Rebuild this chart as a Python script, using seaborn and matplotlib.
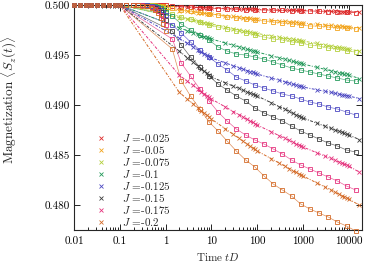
import matplotlib
matplotlib.use("Agg")
import matplotlib.pyplot as plt
import seaborn as sns
import pandas as pd
from matplotlib.ticker import FixedLocator, FixedFormatter, LogLocator, NullFormatter
from matplotlib.lines import Line2D

# ---------------- data ----------------
J_labels = ["-0.025", "-0.05", "-0.075", "-0.1", "-0.125", "-0.15", "-0.175", "-0.2"]
colors = ["#dd2a2a", "#f2a31b", "#b3cf3a", "#23995a", "#4b47c2", "#3c3c3c", "#e5317c", "#d46a26"]

onset_t = 0.1
onset_v = 0.5
early_t = [0.01, 0.0135, 0.018, 0.024, 0.032, 0.043, 0.058, 0.078, 0.1]
early_level = 0.5

cross_t = [2, 3, 4, 5, 6, 7, 8, 9, 10,
           20, 30, 40, 50, 60, 70, 80, 90, 100,
           200, 300, 400, 500, 600, 700, 800, 900, 1000,
           2000, 3000, 4000, 5000, 6000, 7000, 8000, 9000, 10000, 17000]

cross_v = {
    "-0.025": [0.49981, 0.49978, 0.49976, 0.49975, 0.49973, 0.49972, 0.49972, 0.49971, 0.49970,
               0.49966, 0.49963, 0.49961, 0.49960, 0.49958, 0.49957, 0.49957, 0.49956, 0.49955,
               0.49952, 0.49950, 0.49949, 0.49948, 0.49947, 0.49947, 0.49946, 0.49946, 0.49945,
               0.49941, 0.49939, 0.49937, 0.49936, 0.49935, 0.49934, 0.49933, 0.49933, 0.49932, 0.49928],
    "-0.05": [0.49945, 0.49936, 0.49930, 0.49925, 0.49921, 0.49918, 0.49915, 0.49913, 0.49910,
              0.49895, 0.49886, 0.49880, 0.49875, 0.49871, 0.49868, 0.49865, 0.49863, 0.49860,
              0.49848, 0.49841, 0.49836, 0.49832, 0.49829, 0.49826, 0.49824, 0.49822, 0.49820,
              0.49808, 0.49801, 0.49796, 0.49792, 0.49789, 0.49786, 0.49784, 0.49782, 0.49780, 0.49772],
    "-0.075": [0.49873, 0.49857, 0.49846, 0.49837, 0.49830, 0.49824, 0.49819, 0.49815, 0.49810,
               0.49782, 0.49764, 0.49753, 0.49744, 0.49736, 0.49729, 0.49725, 0.49720, 0.49715,
               0.49693, 0.49679, 0.49670, 0.49663, 0.49657, 0.49651, 0.49648, 0.49644, 0.49640,
               0.49616, 0.49602, 0.49592, 0.49584, 0.49578, 0.49572, 0.49568, 0.49564, 0.49560, 0.49540],
    "-0.1": [0.49772, 0.49743, 0.49724, 0.49708, 0.49695, 0.49684, 0.49676, 0.49668, 0.49660,
             0.49621, 0.49598, 0.49582, 0.49569, 0.49559, 0.49550, 0.49543, 0.49537, 0.49530,
             0.49494, 0.49472, 0.49458, 0.49446, 0.49436, 0.49428, 0.49422, 0.49416, 0.49410,
             0.49377, 0.49357, 0.49344, 0.49333, 0.49324, 0.49317, 0.49311, 0.49306, 0.49300, 0.49265],
    "-0.125": [0.49666, 0.49616, 0.49582, 0.49554, 0.49532, 0.49512, 0.49498, 0.49484, 0.49470,
               0.49422, 0.49393, 0.49374, 0.49358, 0.49345, 0.49334, 0.49326, 0.49318, 0.49310,
               0.49271, 0.49248, 0.49232, 0.49219, 0.49209, 0.49200, 0.49193, 0.49187, 0.49180,
               0.49153, 0.49137, 0.49126, 0.49117, 0.49110, 0.49104, 0.49099, 0.49095, 0.49090, 0.49065],
    "-0.15": [0.49539, 0.49472, 0.49428, 0.49391, 0.49361, 0.49336, 0.49317, 0.49299, 0.49280,
              0.49223, 0.49189, 0.49166, 0.49147, 0.49132, 0.49119, 0.49109, 0.49100, 0.49090,
              0.49024, 0.48984, 0.48958, 0.48936, 0.48918, 0.48903, 0.48892, 0.48881, 0.48870,
              0.48819, 0.48788, 0.48768, 0.48751, 0.48737, 0.48726, 0.48717, 0.48709, 0.48700, 0.48655],
    "-0.175": [0.49298, 0.49237, 0.49196, 0.49162, 0.49135, 0.49111, 0.49094, 0.49077, 0.49060,
               0.48982, 0.48935, 0.48904, 0.48878, 0.48857, 0.48839, 0.48826, 0.48813, 0.48800,
               0.48734, 0.48694, 0.48668, 0.48646, 0.48628, 0.48613, 0.48602, 0.48591, 0.48580,
               0.48523, 0.48489, 0.48466, 0.48447, 0.48432, 0.48419, 0.48409, 0.48400, 0.48390, 0.48328],
    "-0.2": [0.49126, 0.49058, 0.49012, 0.48974, 0.48944, 0.48917, 0.48898, 0.48879, 0.48860,
             0.48764, 0.48706, 0.48668, 0.48636, 0.48610, 0.48588, 0.48572, 0.48556, 0.48540,
             0.48465, 0.48420, 0.48390, 0.48365, 0.48345, 0.48328, 0.48315, 0.48303, 0.48290,
             0.48221, 0.48180, 0.48152, 0.48129, 0.48111, 0.48095, 0.48083, 0.48072, 0.48060, 0.47998],
}

square_t = [1.4, 2.2, 3.5, 5.6, 8.9, 14, 22, 35, 56, 89, 141, 224, 355, 562, 891,
            1413, 2239, 3548, 5623, 8913, 14125]

square_v = {
    "-0.025": [0.4999, 0.49985, 0.4998, 0.49975, 0.4997, 0.49965, 0.4996, 0.49957, 0.49955, 0.49952,
               0.4995, 0.49948, 0.49946, 0.49944, 0.49942, 0.4994, 0.49937, 0.49934, 0.49931, 0.49928, 0.49925],
    "-0.05": [0.4997, 0.4995, 0.4994, 0.4993, 0.4991, 0.4990, 0.4988, 0.4987, 0.4986, 0.4985,
              0.4984, 0.4983, 0.4982, 0.4981, 0.4980, 0.4979, 0.4979, 0.4978, 0.4977, 0.4977, 0.4976],
    "-0.075": [0.4991, 0.4988, 0.4986, 0.4983, 0.4980, 0.4978, 0.4976, 0.4974, 0.4972, 0.4970,
               0.4968, 0.4966, 0.4965, 0.4963, 0.4962, 0.4960, 0.4959, 0.4957, 0.4956, 0.4954, 0.4953],
    "-0.1": [0.4989, 0.4981, 0.4975, 0.4970, 0.4965, 0.4958, 0.4954, 0.4951, 0.4950, 0.4948,
             0.4946, 0.4943, 0.4940, 0.4937, 0.4935, 0.4933, 0.4931, 0.4929, 0.4927, 0.4925, 0.4924],
    "-0.125": [0.4980, 0.4972, 0.4963, 0.4955, 0.4948, 0.4941, 0.4935, 0.4928, 0.4924, 0.4920,
               0.4917, 0.4914, 0.4911, 0.4909, 0.4906, 0.4903, 0.4901, 0.4898, 0.4896, 0.4893, 0.4890],
    "-0.15": [0.4974, 0.4960, 0.4948, 0.4938, 0.4929, 0.4921, 0.4915, 0.4909, 0.4904, 0.4897,
              0.4892, 0.4888, 0.4884, 0.4879, 0.4874, 0.4870, 0.4866, 0.4862, 0.4859, 0.4855, 0.4853],
    "-0.175": [0.4966, 0.4942, 0.4929, 0.4916, 0.4904, 0.4893, 0.4884, 0.4876, 0.4870, 0.4865,
               0.4861, 0.4856, 0.4851, 0.4845, 0.4840, 0.4836, 0.4832, 0.4828, 0.4824, 0.4819, 0.4815],
    "-0.2": [0.4956, 0.4924, 0.4909, 0.4896, 0.4883, 0.4874, 0.4864, 0.4854, 0.4845, 0.4838,
             0.4829, 0.4821, 0.4815, 0.4809, 0.4801, 0.4796, 0.4792, 0.4788, 0.4783, 0.4779, 0.4774],
}

# dense squares just before t = 1
cluster_t = [0.14, 0.19, 0.25, 0.3, 0.4, 0.5, 0.6, 0.7, 0.8, 0.9, 1.0]
cluster_v = {
    "-0.025": [0.5, 0.5, 0.5, 0.5, 0.5, 0.5, 0.49999, 0.49999, 0.49998, 0.49997, 0.49996],
    "-0.05": [0.5, 0.5, 0.5, 0.5, 0.49999, 0.49998, 0.49997, 0.49995, 0.49992, 0.49988, 0.49984],
    "-0.075": [0.5, 0.5, 0.5, 0.49999, 0.49999, 0.49996, 0.49993, 0.49989, 0.49982, 0.49973, 0.49963],
    "-0.1": [0.5, 0.5, 0.5, 0.49999, 0.49998, 0.49993, 0.49988, 0.4998, 0.49968, 0.49953, 0.49935],
    "-0.125": [0.5, 0.5, 0.5, 0.49998, 0.49996, 0.49988, 0.4998, 0.49969, 0.49949, 0.49926, 0.49898],
    "-0.15": [0.5, 0.5, 0.5, 0.49997, 0.49994, 0.49983, 0.49972, 0.49955, 0.49927, 0.49893, 0.49854],
    "-0.175": [0.5, 0.5, 0.5, 0.49996, 0.49992, 0.49977, 0.49962, 0.49939, 0.499, 0.49855, 0.49801],
    "-0.2": [0.5, 0.5, 0.5, 0.49995, 0.4999, 0.4997, 0.4995, 0.4992, 0.4987, 0.4981, 0.4974],
}

x_ticks = [0.01, 0.1, 1, 10, 100, 1000, 10000]
x_ticklabels = ["0.01", "0.1", "1", "10", "100", "1000", "10000"]
y_ticks = [0.480, 0.485, 0.490, 0.495, 0.500]
y_ticklabels = ["0.480", "0.485", "0.490", "0.495", "0.500"]

# ---------------- style ----------------
sns.set_style("ticks")
plt.rcParams.update({
    "font.family": ["cmr10", "DejaVu Serif"],
    "mathtext.fontset": "cm",
    "axes.formatter.use_mathtext": True,
    "font.size": 8,
    "axes.linewidth": 0.8,
    "axes.unicode_minus": False,
})

fig = plt.figure(figsize=(3.68, 2.65), dpi=100)
ax = fig.add_axes([0.201, 0.132, 0.783, 0.849])

for lab, c in zip(J_labels, colors):
    cv = cross_v[lab]
    sv = square_v[lab]
    # fitted lines
    sns.lineplot(x=[onset_t] + square_t, y=[onset_v] + sv, ax=ax, color=c, lw=0.5,
                 alpha=0.75, estimator=None, sort=False, legend=False, zorder=1)
    sns.lineplot(x=[onset_t] + cross_t, y=[onset_v] + cv, ax=ax, color=c, lw=0.7,
                 linestyle=(0, (3, 1.5, 1, 1.5)), estimator=None, sort=False,
                 legend=False, zorder=2)
    # squares
    sq_df = pd.DataFrame({"t": early_t + cluster_t + square_t,
                          "m": [early_level] * len(early_t) + cluster_v[lab] + sv})
    sns.lineplot(data=sq_df, x="t", y="m", ax=ax, marker="s", linestyle="none",
                 color=c, markerfacecolor="none", markeredgecolor=c, markersize=3.3,
                 markeredgewidth=0.6, estimator=None, sort=False, legend=False,
                 clip_on=False, zorder=3)
    # crosses
    cr_df = pd.DataFrame({"t": early_t + cross_t,
                          "m": [early_level] * len(early_t) + cv})
    sns.lineplot(data=cr_df, x="t", y="m", ax=ax, marker="x", linestyle="none",
                 color=c, markeredgecolor=c, markersize=3.0, markeredgewidth=0.6,
                 estimator=None, sort=False, legend=False, clip_on=False, zorder=4)

ax.set_xscale("log")
ax.set_xlim(0.01, 19500)
ax.set_ylim(0.4775, 0.5)

ax.xaxis.set_major_locator(FixedLocator(x_ticks))
ax.xaxis.set_major_formatter(FixedFormatter(x_ticklabels))
ax.xaxis.set_minor_locator(LogLocator(base=10, subs=range(2, 10), numticks=20))
ax.xaxis.set_minor_formatter(NullFormatter())
ax.yaxis.set_major_locator(FixedLocator(y_ticks))
ax.yaxis.set_major_formatter(FixedFormatter(y_ticklabels))

ax.tick_params(which="both", direction="in", top=True, right=True, width=0.6, colors="black")
ax.tick_params(which="major", length=4)
ax.tick_params(which="minor", length=2)
ax.tick_params(axis="x", which="major", pad=5, labelsize=8)
ax.tick_params(axis="y", which="major", pad=3, labelsize=8)

ax.set_xlabel(r"Time $tD$", fontsize=8, labelpad=3)
ax.set_ylabel(r"Magnetization $\langle S_z(t)\rangle$", fontsize=9.5)
ax.yaxis.set_label_coords(-0.19, 0.58)

handles = [Line2D([], [], marker="x", linestyle="none", color=c, markersize=3.0,
                  markeredgewidth=0.6) for c in colors]
labels = [r"$J$ =" + l for l in J_labels]
ax.legend(handles, labels, loc="lower left", bbox_to_anchor=(0.075, 0.01),
          frameon=False, fontsize=8, handlelength=1.0, handletextpad=1.4,
          labelspacing=0.0, borderpad=0, borderaxespad=0)

fig.savefig("out.png", dpi=100)
